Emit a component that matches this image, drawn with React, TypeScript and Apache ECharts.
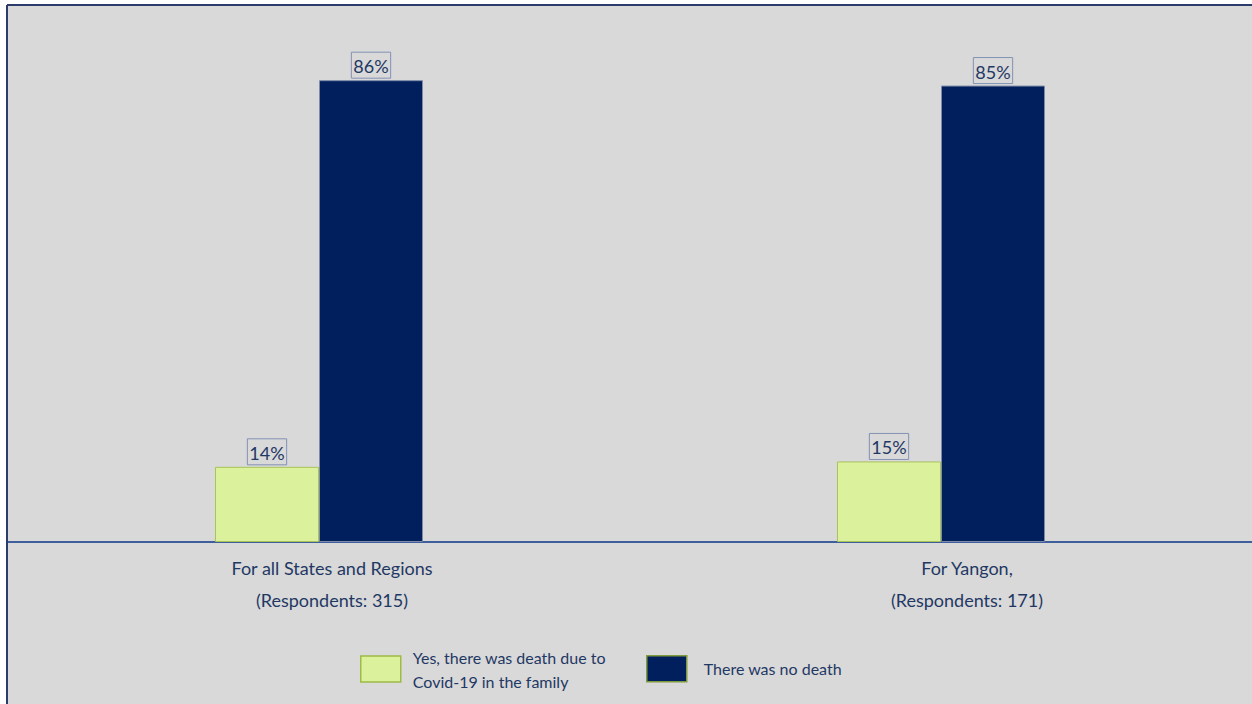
import React, { useEffect, useRef } from "react";
import * as echarts from "echarts";

const categories = ["For all States and Regions\n(Respondents: 315)", "For Yangon,\n(Respondents: 171)"];
const seriesNames = ["Yes, there was death due to\nCovid-19 in the family", "There was no death"];
const yesDeath = [14, 15];
const noDeath = [86, 85];

const FONT = "Lato, 'Noto Sans', sans-serif";
const TEXT = "#1f3864";

export default function App() {
  const ref = useRef<HTMLDivElement>(null);
  useEffect(() => {
    const chart = echarts.init(ref.current!, null, { renderer: "svg" });
    const label = {
      show: true,
      position: "top",
      distance: 2,
      formatter: "{c}%",
      color: TEXT,
      fontFamily: FONT,
      fontSize: 18,
      borderColor: "#8391b5",
      borderWidth: 1,
      padding: [5, 2, 3, 2],
    };
    chart.setOption({
      animation: false,
      backgroundColor: "transparent",
      graphic: [
        { type: "rect", z: -10, shape: { x: 7, y: 5, width: 1245, height: 699 }, style: { fill: "#d9d9d9", stroke: "none" } },
        { type: "line", z: 100, shape: { x1: 7, y1: 5, x2: 1252, y2: 5 }, style: { stroke: "#2b3c6b", lineWidth: 2 } },
        { type: "line", z: 100, shape: { x1: 7, y1: 5, x2: 7, y2: 704 }, style: { stroke: "#2b3c6b", lineWidth: 2 } },
      ],
      grid: { left: 8, right: -4, top: 5, bottom: 162, containLabel: false },
      legend: [
        {
          left: 360,
          top: 645,
          padding: 0,
          itemWidth: 40,
          itemHeight: 26,
          icon: "rect",
          data: [{ name: seriesNames[0], itemStyle: { borderColor: "#9dbb45", borderWidth: 1.5 } }],
          textStyle: { color: TEXT, fontFamily: FONT, fontSize: 16, lineHeight: 24, padding: [0, 0, 0, 7] },
        },
        {
          left: 646,
          top: 655,
          padding: 0,
          itemWidth: 40,
          itemHeight: 26,
          icon: "rect",
          data: [{ name: seriesNames[1], itemStyle: { borderColor: "#7f9a3c", borderWidth: 1.5 } }],
          textStyle: { color: TEXT, fontFamily: FONT, fontSize: 16, padding: [0, 0, 0, 12] },
        },
      ],
      xAxis: {
        type: "category",
        data: categories,
        axisLine: { show: true, lineStyle: { color: "#3f5f9c", width: 2 } },
        axisTick: { show: false },
        axisLabel: {
          margin: 10,
          formatter: (v: string, i: number) => {
            const key = i === 0 ? "a" : "b";
            return v.split("\n").map((s) => `{${key}|${s}}`).join("\n");
          },
          rich: {
            a: { color: TEXT, fontFamily: FONT, fontSize: 18, lineHeight: 32, padding: [0, 0, 0, 26] },
            b: { color: TEXT, fontFamily: FONT, fontSize: 18, lineHeight: 32, padding: [0, 0, 0, 52] },
          },
        },
      },
      yAxis: { type: "value", min: 0, max: 100, show: false, splitLine: { show: false } },
      series: [
        {
          name: seriesNames[0],
          type: "bar",
          data: yesDeath,
          barWidth: 104,
          barGap: "0%",
          itemStyle: { color: "#dcf19b", borderColor: "#a8c35a", borderWidth: 1 },
          label,
        },
        {
          name: seriesNames[1],
          type: "bar",
          data: noDeath,
          barWidth: 104,
          barGap: "0%",
          itemStyle: { color: "#001f5c", borderColor: "#7d8aa8", borderWidth: 1 },
          label,
        },
      ],
    });
    return () => chart.dispose();
  }, []);
  return (
    <div
      ref={ref}
      style={{ position: "fixed", left: 0, top: 0, width: 1252, height: 704, background: "#fff" }}
    />
  );
}
